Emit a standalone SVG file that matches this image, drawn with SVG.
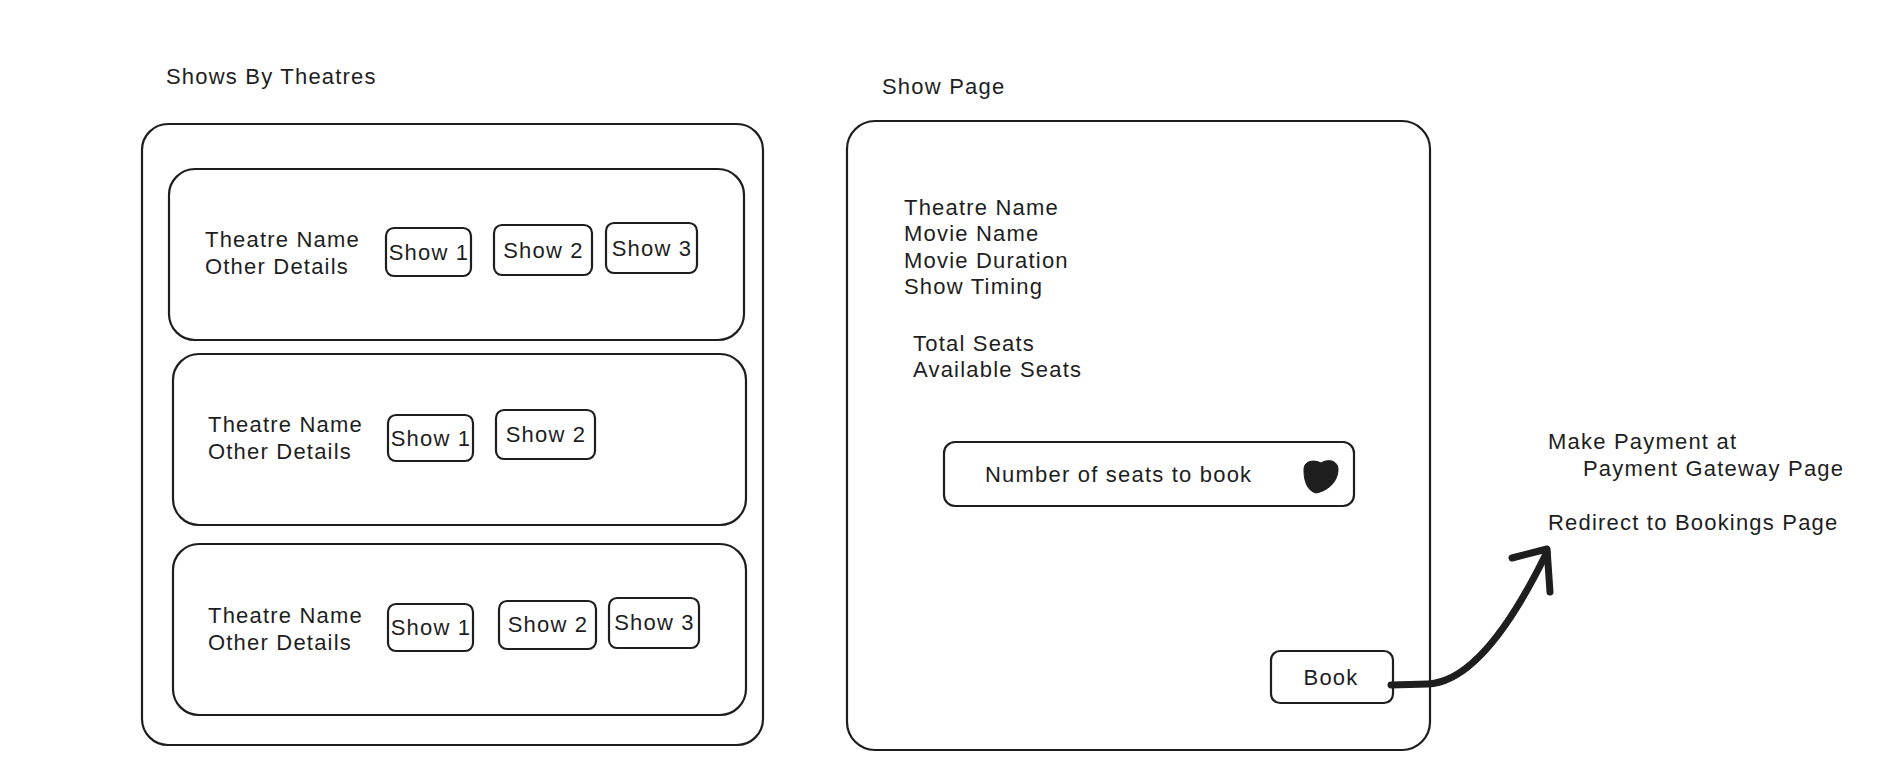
<svg xmlns="http://www.w3.org/2000/svg" width="1884" height="780" viewBox="0 0 1884 780">
<style>
.box{fill:none;stroke:#1e1e1e;stroke-width:2.2;stroke-linejoin:round}
.t{font-family:"Liberation Sans",Arial,sans-serif;font-size:22px;letter-spacing:1.2px;fill:#1e1e1e}
.c{text-anchor:middle}
.conn{fill:none;stroke:#1e1e1e;stroke-width:7;stroke-linecap:round;stroke-linejoin:round}
</style>
<rect width="1884" height="780" fill="#ffffff"/>
<g id="title-shows"><text class="t" x="166" y="84">Shows By Theatres</text></g>
<g id="theatres-panel"><rect class="box" x="142" y="124" width="621" height="621" rx="26"/></g>
<g id="card1">
<rect class="box" x="169" y="169" width="575" height="171" rx="26"/>
<text class="t" x="205" y="247">Theatre Name</text>
<text class="t" x="205" y="274">Other Details</text>
</g>
<g id="card1-show1"><rect class="box" x="386" y="228" width="85" height="48" rx="8"/><text class="t c" x="429" y="260">Show 1</text></g>
<g id="card1-show2"><rect class="box" x="494" y="225" width="98" height="50" rx="8"/><text class="t c" x="543.5" y="258">Show 2</text></g>
<g id="card1-show3"><rect class="box" x="606" y="223" width="91" height="50" rx="8"/><text class="t c" x="652" y="256">Show 3</text></g>
<g id="card2">
<rect class="box" x="173" y="354" width="573" height="171" rx="26"/>
<text class="t" x="208" y="432">Theatre Name</text>
<text class="t" x="208" y="459">Other Details</text>
</g>
<g id="card2-show1"><rect class="box" x="388" y="415" width="85" height="46" rx="8"/><text class="t c" x="431" y="446">Show 1</text></g>
<g id="card2-show2"><rect class="box" x="496" y="410" width="99" height="49" rx="8"/><text class="t c" x="546" y="442">Show 2</text></g>
<g id="card3">
<rect class="box" x="173" y="544" width="573" height="171" rx="26"/>
<text class="t" x="208" y="623">Theatre Name</text>
<text class="t" x="208" y="650">Other Details</text>
</g>
<g id="card3-show1"><rect class="box" x="388" y="604" width="85" height="47" rx="8"/><text class="t c" x="431" y="635">Show 1</text></g>
<g id="card3-show2"><rect class="box" x="499" y="601" width="97" height="48" rx="8"/><text class="t c" x="548" y="632">Show 2</text></g>
<g id="card3-show3"><rect class="box" x="609" y="598" width="90" height="50" rx="8"/><text class="t c" x="654.5" y="630">Show 3</text></g>
<g id="title-showpage"><text class="t" x="882" y="94">Show Page</text></g>
<g id="show-page">
<rect class="box" x="847" y="121" width="583" height="629" rx="28"/>
<text class="t" x="904" y="215">Theatre Name</text>
<text class="t" x="904" y="241">Movie Name</text>
<text class="t" x="904" y="268">Movie Duration</text>
<text class="t" x="904" y="294">Show Timing</text>
<text class="t" x="913" y="351">Total Seats</text>
<text class="t" x="913" y="377">Available Seats</text>
</g>
<g id="seats-input">
<rect class="box" x="944" y="442" width="410" height="64" rx="11"/>
<text class="t" x="985" y="482">Number of seats to book</text>
<path d="M1304,471 C1303,461 1313,459 1321,463 C1329,458 1339,461 1338,471 C1337,483 1327,491 1316,493 C1307,491 1304,480 1304,471 Z" fill="#1e1e1e" stroke="#1e1e1e" stroke-width="1"/>
</g>
<g id="book-button"><rect class="box" x="1271" y="651" width="122" height="52" rx="9"/><text class="t c" x="1331" y="685">Book</text></g>
<g id="payment-notes">
<text class="t" x="1548" y="449">Make Payment at</text>
<text class="t" x="1583" y="476">Payment Gateway Page</text>
<text class="t" x="1548" y="530">Redirect to Bookings Page</text>
</g>
<g id="connectors">
<path class="conn" d="M1391,685 L1428,684 C1470,682 1510,628 1547,552"/>
<path class="conn" d="M1512,558 L1547,549 L1550,592"/>
</g>
</svg>
